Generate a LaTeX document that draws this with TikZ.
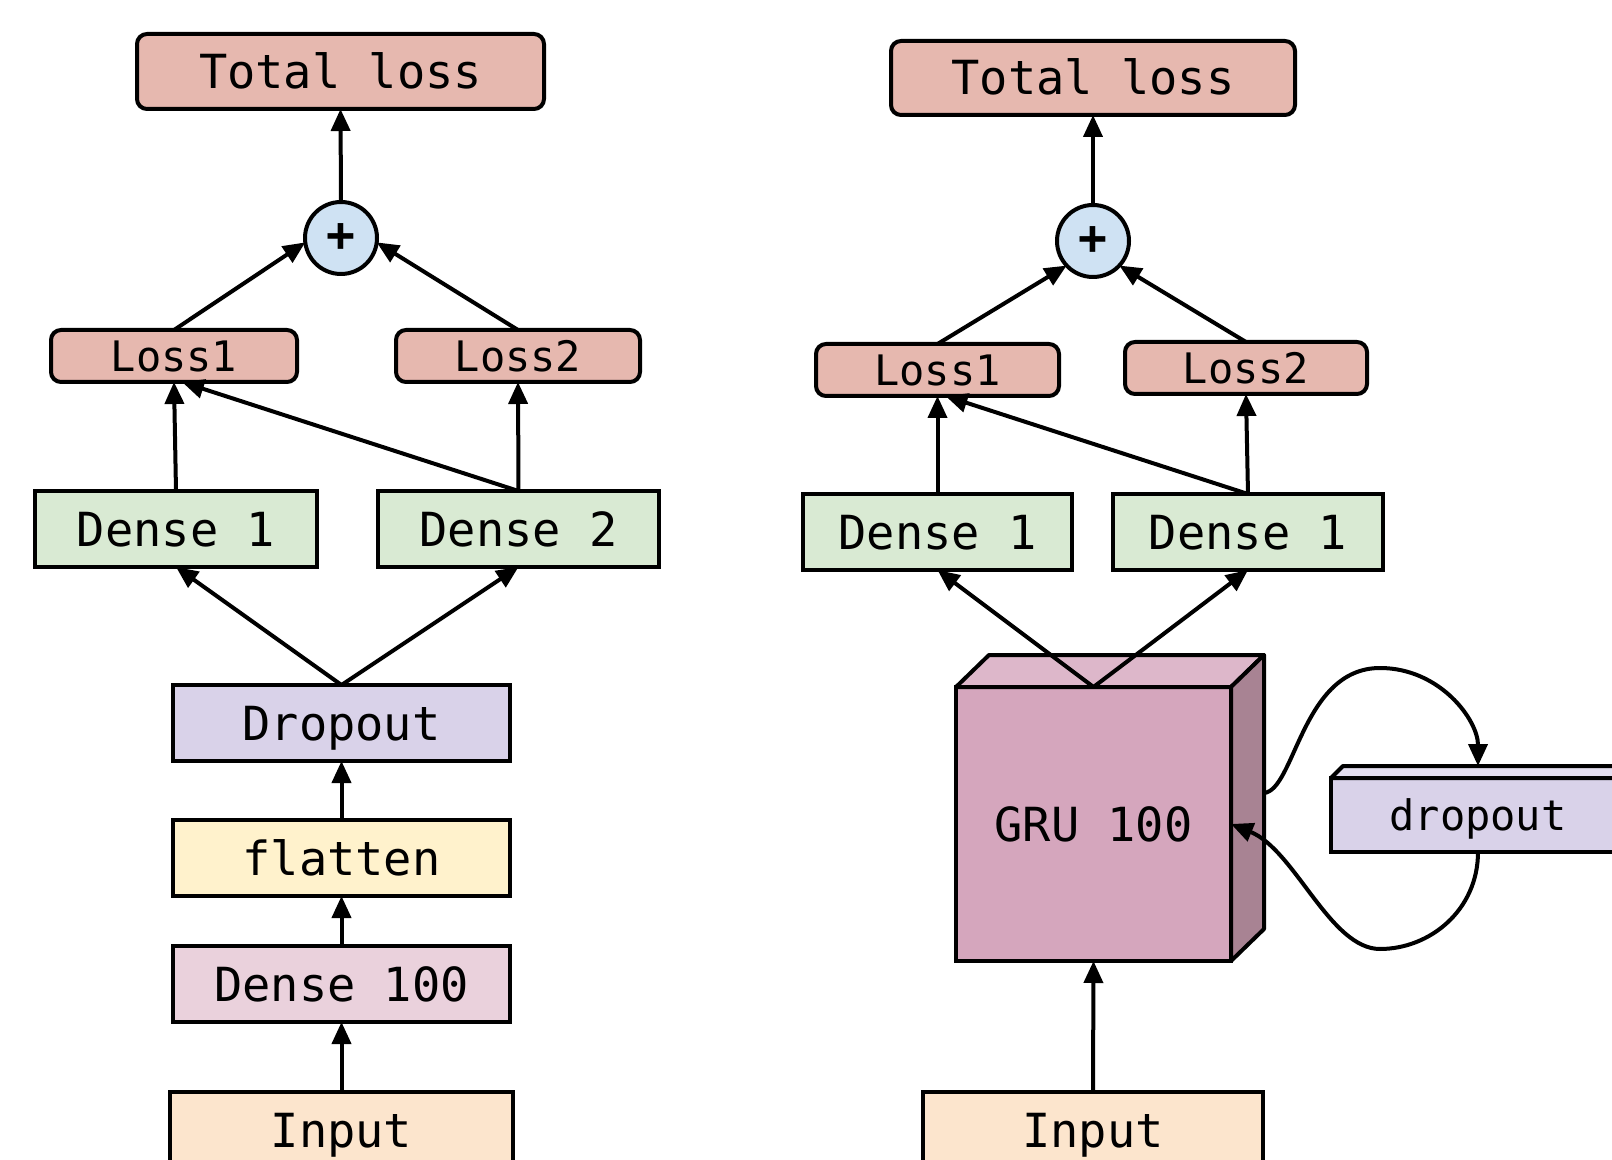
\documentclass[tikz,border=0pt]{standalone}
\usepackage{fontspec}
\newfontfamily\monofont{DejaVu Sans Mono}
\usetikzlibrary{arrows.meta,calc}

\definecolor{lossred}{HTML}{E6B8AF}
\definecolor{plusblue}{HTML}{CFE2F3}
\definecolor{densegreen}{HTML}{D9EAD3}
\definecolor{droppurple}{HTML}{D9D2E9}
\definecolor{droptop}{HTML}{E3DEF0}
\definecolor{flatyellow}{HTML}{FFF2CC}
\definecolor{densepink}{HTML}{EAD1DC}
\definecolor{inputorange}{HTML}{FCE5CD}
\definecolor{grufront}{HTML}{D5A6BD}
\definecolor{grutop}{HTML}{DDB7CA}
\definecolor{gruside}{HTML}{A88393}

\tikzset{
  layer/.style={draw, line width=2pt, inner sep=0pt, outer sep=0pt,
    text height=17pt, text depth=0pt,
    font=\monofont\fontsize{23.5}{28}\selectfont},
  wide/.style={layer, minimum width=#1, minimum height=38pt},
  lossbox/.style={layer, fill=lossred, rounded corners=5pt},
  smalltext/.style={text height=15.3pt, font=\monofont\fontsize{21}{25}\selectfont},
  sumnode/.style={draw, circle, line width=2pt, fill=plusblue, inner sep=0pt,
    outer sep=0pt, minimum size=36pt, font=\monofont\bfseries\fontsize{24}{28}\selectfont},
  arr/.style={-{Triangle[length=11pt,width=9.5pt]}, line width=2pt},
  face/.style={draw, line width=2pt, line join=round},
}

\begin{document}
\begin{tikzpicture}[x=0.5pt, y=-0.5pt]
\clip (0,0) rectangle (1612,1160);
\fill[white] (0,0) rectangle (1612,1160);

% ---------------- left network ----------------
\node[lossbox, minimum width=203.5pt, minimum height=37.5pt] (tl1) at (340.5,71.5) {Total loss};
\node[sumnode] (p1) at (341,238) {+};
\node[lossbox, smalltext, minimum width=123pt, minimum height=26pt] (l1a) at (174,356) {Loss1};
\node[lossbox, smalltext, minimum width=122pt, minimum height=26pt] (l1b) at (518,356) {Loss2};
\node[wide=141pt, fill=densegreen] (d1a) at (176,529) {Dense 1};
\node[wide=140.5pt, fill=densegreen] (d1b) at (518.5,529) {Dense 2};
\node[wide=168.5pt, fill=droppurple] (drop1) at (341.5,723) {Dropout};
\node[wide=168.5pt, fill=flatyellow] (flat) at (341.5,858) {flatten};
\node[wide=168.5pt, fill=densepink] (d100) at (341.5,984) {Dense 100};
\node[wide=171.5pt, fill=inputorange] (in1) at (341.5,1130) {Input};

\draw[arr] (p1.north) -- (tl1.south);
\draw[arr] (l1a.north) -- (p1.187);
\draw[arr] (l1b.north) -- (p1.353);
\draw[arr] (d1a.north) -- (l1a.south);
\draw[arr] (d1b.north) -- (l1b.south);
\draw[arr] (d1b.north) -- ($(l1a.south)+(8,0)$);
\draw[arr] (drop1.north) -- (d1a.south);
\draw[arr] (drop1.north) -- (d1b.south);
\draw[arr] (flat.north) -- (drop1.south);
\draw[arr] (d100.north) -- (flat.south);
\draw[arr] (in1.north) -- (d100.south);

% ---------------- right network ----------------
\node[lossbox, minimum width=202pt, minimum height=37pt] (tl2) at (1093,78) {Total loss};
\node[sumnode] (p2) at (1093,241) {+};
\node[lossbox, smalltext, minimum width=121.5pt, minimum height=26pt] (l2a) at (937.5,370) {Loss1};
\node[lossbox, smalltext, minimum width=121pt, minimum height=26pt] (l2b) at (1246,368) {Loss2};
\node[wide=134.5pt, fill=densegreen] (d2a) at (937.5,532) {Dense 1};
\node[wide=135pt, fill=densegreen] (d2b) at (1248,532) {Dense 1};
\node[layer, fill=grufront, minimum width=137.5pt, minimum height=137pt] (gru) at (1093.5,824) {GRU 100};
\node[wide=170pt, fill=inputorange] (in2) at (1093,1130) {Input};
\node[layer, smalltext, fill=droppurple, minimum width=147pt, minimum height=37pt] (drop2) at (1478,815) {dropout};

% box faces of the recurrent layer and its dropout
\draw[face, fill=grutop] (gru.north west) -- ++(33,-32) -- ($(gru.north east)+(33,-32)$) -- (gru.north east) -- cycle;
\draw[face, fill=gruside] (gru.north east) -- ++(33,-32) -- ($(gru.south east)+(33,-32)$) -- (gru.south east) -- cycle;
\draw[face, fill=droptop] (drop2.north west) -- ++(12,-12) -- ($(drop2.north east)+(12,-12)$) -- (drop2.north east) -- cycle;

\draw[arr] (p2.north) -- (tl2.south);
\draw[arr] (l2a.north) -- (p2.223);
\draw[arr] (l2b.north) -- (p2.317);
\draw[arr] (d2a.north) -- (l2a.south);
\draw[arr] (d2b.north) -- (l2b.south);
\draw[arr] (d2b.north) -- ($(l2a.south)+(8,0)$);
\draw[arr] (gru.north) -- (d2a.south);
\draw[arr] (gru.north) -- (d2b.south);
\draw[arr] (in2.north) -- (gru.south);

% recurrent loop through dropout
\coordinate (loopout) at ($(gru.east)+(33,-31)$);
\coordinate (looptop) at ($(drop2.north)+(0,-12)$);
\draw[arr] (loopout) .. controls (1295,790) and (1302,668) .. (1380,668)
  .. controls (1440,668) and (1478,720) .. (looptop);
\draw[arr] (drop2.south) .. controls (1478,910) and (1430,949) .. (1380,949)
  .. controls (1330,949) and (1295,850) .. (gru.east);
\end{tikzpicture}
\end{document}
